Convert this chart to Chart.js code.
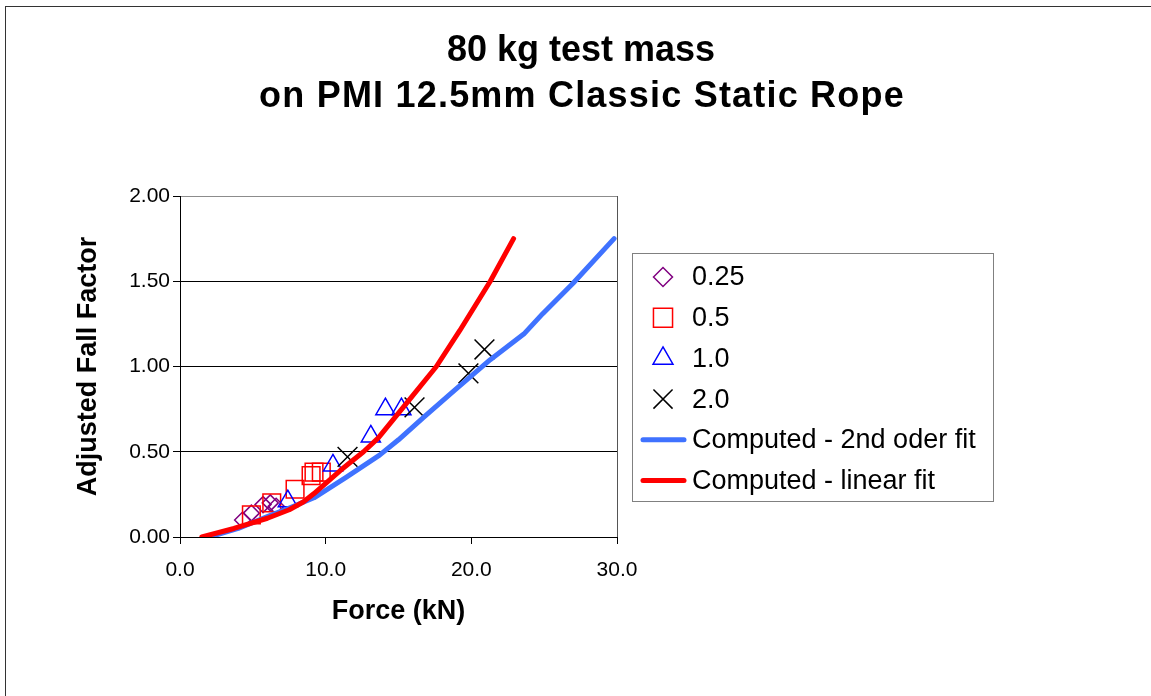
<!DOCTYPE html>
<html><head><meta charset="utf-8">
<script src="https://cdn.jsdelivr.net/npm/chart.js@4/dist/chart.umd.min.js"></script>
<style>html,body{margin:0;padding:0;background:#fff;}canvas{display:block;}</style>
</head><body>
<canvas id="c" width="1151" height="696"></canvas>
<script>
const titleLines = ['80 kg test mass', 'on PMI 12.5mm Classic Static Rope'];
const xAxisTitle = 'Force (kN)';
const yAxisTitle = 'Adjusted Fall Factor';
const seriesLabels = ['0.25', '0.5', '1.0', '2.0', 'Computed - 2nd oder fit', 'Computed - linear fit'];
const xTickValues = [0, 10, 20, 30];
const yTickValues = [0, 0.5, 1.0, 1.5, 2.0];

const ff025Force = [4.3, 4.9, 5.7, 6.2, 6.6];
const ff025Factor = [0.10, 0.14, 0.19, 0.20, 0.18];
const ff05Force = [4.9, 6.3, 7.9, 9.0, 9.2, 9.7];
const ff05Factor = [0.13, 0.20, 0.28, 0.36, 0.38, 0.38];
const ff10Force = [7.4, 10.5, 13.1, 14.1, 15.2];
const ff10Factor = [0.21, 0.42, 0.59, 0.75, 0.75];
const ff20Force = [11.5, 16.1, 19.8, 20.9];
const ff20Factor = [0.47, 0.76, 0.96, 1.10];
const fit2Force = [2.0, 4.0, 6.0, 7.5, 9.2, 11.4, 13.7, 15.0, 16.7, 18.9, 21.3, 23.6, 24.9, 27.0, 29.8];
const fit2Factor = [0.00, 0.05, 0.12, 0.17, 0.23, 0.35, 0.48, 0.57, 0.70, 0.865, 1.04, 1.19, 1.31, 1.49, 1.75];
const linForce = [1.5, 3.7, 6.0, 7.5, 8.46, 9.2, 11.0, 12.6, 13.6, 15.6, 17.6, 19.2, 21.3, 22.9];
const linFactor = [0.00, 0.05, 0.11, 0.16, 0.205, 0.255, 0.39, 0.50, 0.58, 0.79, 1.00, 1.21, 1.50, 1.75];

const pairs = (xs, ys) => xs.map((x, i) => ({x: x, y: ys[i]}));
const FONT = '"Liberation Sans", Arial, sans-serif';

const seriesStyles = [
  {color: '#800080', style: 'rectRot', r: 8, lr: 9.5},
  {color: '#ff0000', style: 'rect', r: 12.5, lr: 13.5},
  {color: '#0000ff', style: 'triangle', r: 11, lr: 11.5},
  {color: '#000000', style: 'crossRot', r: 14, lr: 13.5},
  {color: '#3f72ff', line: true},
  {color: '#ff0000', line: true}
];

function markerSet(i, data, order) {
  const s = seriesStyles[i];
  return {label: seriesLabels[i], data: data, showLine: false,
    pointStyle: s.style, pointRadius: s.r, pointHoverRadius: s.r,
    borderColor: s.color, backgroundColor: 'rgba(0,0,0,0)',
    pointBorderWidth: 1.5, borderWidth: 1.5, order: order};
}
function lineSet(i, data, order) {
  const s = seriesStyles[i];
  return {label: seriesLabels[i], data: data, showLine: true, pointRadius: 0, pointHoverRadius: 0,
    borderColor: s.color, backgroundColor: s.color, borderWidth: 5,
    borderCapStyle: 'round', borderJoinStyle: 'round', tension: 0, order: order};
}

function drawMarker(ctx, style, x, y, r) {
  ctx.beginPath();
  if (style === 'rectRot') {
    ctx.moveTo(x - r, y); ctx.lineTo(x, y - r); ctx.lineTo(x + r, y); ctx.lineTo(x, y + r); ctx.closePath();
  } else if (style === 'rect') {
    const s = Math.SQRT1_2 * r; ctx.rect(x - s, y - s, 2 * s, 2 * s);
  } else if (style === 'triangle') {
    const a = 2 * Math.PI / 3;
    ctx.moveTo(x, y - r);
    ctx.lineTo(x + Math.sin(a) * r, y - Math.cos(a) * r);
    ctx.lineTo(x + Math.sin(2 * a) * r, y - Math.cos(2 * a) * r);
    ctx.closePath();
  } else if (style === 'crossRot') {
    const d = Math.SQRT1_2 * r;
    ctx.moveTo(x - d, y - d); ctx.lineTo(x + d, y + d);
    ctx.moveTo(x - d, y + d); ctx.lineTo(x + d, y - d);
  }
  ctx.stroke();
}

const decorPlugin = {
  id: 'decor',
  beforeDraw(chart) {
    const ctx = chart.ctx;
    ctx.save();
    ctx.fillStyle = '#ffffff';
    ctx.fillRect(0, 0, chart.width, chart.height);
    ctx.restore();
  },
  afterDraw(chart) {
    const ctx = chart.ctx;
    const ca = chart.chartArea;
    ctx.save();
    // outer chart frame
    ctx.strokeStyle = '#333333'; ctx.lineWidth = 1;
    ctx.strokeRect(5.5, 6.5, chart.width + 10, chart.height + 10);
    // plot area right border
    ctx.strokeStyle = '#555555';
    ctx.beginPath(); ctx.moveTo(Math.round(ca.right) + 0.5, ca.top); ctx.lineTo(Math.round(ca.right) + 0.5, ca.bottom); ctx.stroke();
    // title
    ctx.fillStyle = '#000'; ctx.textAlign = 'center'; ctx.textBaseline = 'middle';
    ctx.font = 'bold 36px ' + FONT;
    ctx.fillText(titleLines[0], 581, 51);
    if ('letterSpacing' in ctx) ctx.letterSpacing = '1.2px';
    ctx.fillText(titleLines[1], 582, 97);
    if ('letterSpacing' in ctx) ctx.letterSpacing = '0px';
    // legend
    const bx = 632, by = 253, bw = 361, bh = 248;
    ctx.strokeStyle = '#808080'; ctx.lineWidth = 1;
    ctx.strokeRect(bx + 0.5, by + 0.5, bw, bh);
    ctx.font = '27px ' + FONT; ctx.textAlign = 'left';
    for (let i = 0; i < seriesLabels.length; i++) {
      const y = 277 + i * 40.7;
      const s = seriesStyles[i];
      ctx.strokeStyle = s.color;
      if (s.line) {
        ctx.lineWidth = 5; ctx.lineCap = 'round';
        ctx.beginPath(); ctx.moveTo(643, y); ctx.lineTo(684, y); ctx.stroke();
      } else {
        ctx.lineWidth = 1.5; ctx.lineCap = 'butt';
        drawMarker(ctx, s.style, 663, y, s.lr);
      }
      ctx.fillStyle = '#000';
      ctx.fillText(seriesLabels[i], 692, y + 1);
    }
    ctx.restore();
  }
};

new Chart(document.getElementById('c'), {
  type: 'scatter',
  data: {
    datasets: [
      markerSet(0, pairs(ff025Force, ff025Factor), 5),
      markerSet(1, pairs(ff05Force, ff05Factor), 4),
      markerSet(2, pairs(ff10Force, ff10Factor), 3),
      markerSet(3, pairs(ff20Force, ff20Factor), 2),
      lineSet(4, pairs(fit2Force, fit2Factor), 1),
      lineSet(5, pairs(linForce, linFactor), 0)
    ]
  },
  options: {
    responsive: false,
    animation: false,
    events: [],
    layout: {padding: {left: 68, top: 196, right: 534, bottom: 64}},
    plugins: {legend: {display: false}, title: {display: false}, tooltip: {enabled: false}},
    scales: {
      x: {
        type: 'linear', min: 0, max: 30,
        afterBuildTicks: s => { s.ticks = xTickValues.map(v => ({value: v})); },
        afterFit: s => { s.height = 95; },
        ticks: {color: '#000', font: {family: FONT, size: 21}, padding: 14,
          callback: v => Number(v).toFixed(1), maxRotation: 0, autoSkip: false},
        grid: {drawOnChartArea: false, drawTicks: true, tickLength: 7, tickColor: '#000', color: '#000'},
        border: {display: true, color: '#000', width: 1},
        title: {display: true, text: xAxisTitle, color: '#000', font: {family: FONT, size: 27, weight: 'bold'}, padding: {top: 4, bottom: 4}}
      },
      y: {
        type: 'linear', min: 0, max: 2,
        afterBuildTicks: s => { s.ticks = yTickValues.map(v => ({value: v})); },
        afterFit: s => { s.width = 112; },
        ticks: {color: '#000', font: {family: FONT, size: 21}, padding: 3,
          callback: v => Number(v).toFixed(2), autoSkip: false},
        grid: {drawTicks: true, tickLength: 7, tickColor: '#000',
          color: c => (c.tick && c.tick.value === 2 ? '#8c8c8c' : '#000'), lineWidth: 1},
        border: {display: true, color: '#000', width: 1},
        title: {display: true, text: yAxisTitle, color: '#000', font: {family: FONT, size: 27, weight: 'bold'}, padding: {top: 4, bottom: 4}}
      }
    }
  },
  plugins: [decorPlugin]
});
</script>
</body></html>
